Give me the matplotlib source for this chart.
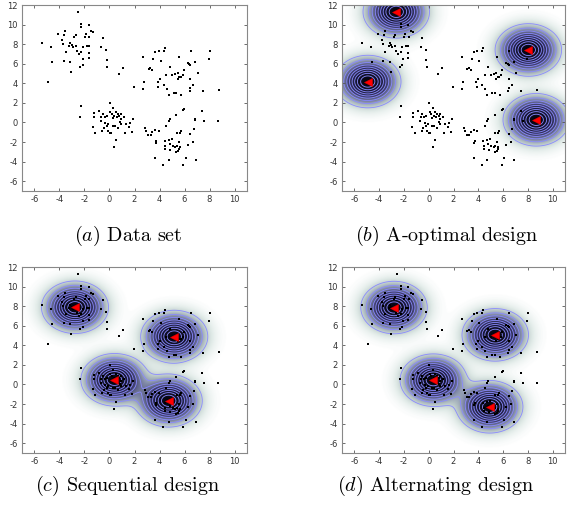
import numpy as np
import matplotlib
matplotlib.use("Agg")
import matplotlib.pyplot as plt
from matplotlib.colors import LinearSegmentedColormap

plt.rcParams['axes.unicode_minus'] = False
plt.rcParams['mathtext.fontset'] = 'cm'

# ---- data set ----
data_x = [
    -2.55, -2.24, -2.24, -1.66, -1.45, -1.29, -4.13, -3.55, -3.63, -3.79, -3.71, -2.71, -2.82,
    -1.89, -1.97, -1.61, -3.13, -3.03, -3.24, -2.95, -2.71, -2.13, -1.82, -1.66, -3.50, -2.63,
    -2.45, -2.24, -1.66, -1.66, -2.10, -3.66, -3.16, -2.32, -2.13, -3.08, -5.37, -4.66, -4.60,
    -4.89, -0.66, -0.53, -0.26, -0.21, -0.16, 0.74, 1.08,
    2.68, 3.66, 3.92, 4.34, 4.42, 4.08, 3.47, 5.53, 6.50, 6.26, 6.37, 6.45, 6.87, 8.05, 7.97,
    3.13, 3.24, 3.39, 4.82, 5.92, 7.08, 4.55, 5.03, 5.24, 5.45, 5.58, 5.71, 5.84, 5.47, 4.00,
    3.84, 2.76, 3.89, 4.34, 4.58, 2.68, 1.97, 5.13, 5.34, 4.74, 5.74, 6.45, 6.47, 6.42, 6.71,
    7.47, 8.74,
    0.03, 0.32, -2.24, -2.32, -0.84, -1.26, -0.55, -1.24, -0.66, -0.71, -0.39, -0.18, 0.08,
    0.18, 0.53, 0.66, 0.79, 0.58, 0.26, 0.39, 0.92, 1.18, 0.92, 1.87, -0.32, -0.18, -0.08,
    0.26, 0.45, 0.82, 0.92, 1.32, 1.66, 1.58, -1.32, -0.45, -0.58, -0.13, 0.03, 0.13, -1.13,
    1.24, 1.76, 0.50, 0.34, 0.68,
    5.89, 5.97, 7.42, 7.58, 6.87, 6.87, 8.71, 5.32, 4.82, 4.74, 2.82, 2.92, 3.08, 3.29, 3.42,
    3.63, 3.92, 4.53, 5.71, 5.61, 5.39, 6.74, 6.45, 4.97, 4.74, 4.42, 3.74, 3.68, 5.55, 4.47,
    4.82, 5.05, 5.24, 5.39, 5.61, 5.58, 5.50, 5.34, 4.84, 4.45, 4.74, 6.66, 6.26, 3.63, 4.29,
    6.10, 5.89, 6.89,
]
data_y = [
    11.26, 10.07, 9.73, 9.97, 9.39, 9.25, 9.05, 9.32, 8.91, 8.47, 8.06, 8.98, 8.78,
    9.05, 8.71, 8.78, 8.13, 7.96, 7.86, 7.69, 7.79, 7.69, 7.82, 7.82, 7.18, 7.35,
    7.00, 7.18, 7.07, 6.60, 6.50, 6.33, 6.16, 5.65, 5.88, 5.17, 8.10, 7.76, 6.22,
    4.12, 7.69, 8.64, 7.41, 6.39, 5.71, 4.97, 5.58,
    6.73, 7.18, 7.28, 7.28, 7.65, 6.33, 6.50, 6.73, 7.28, 6.12, 5.99, 5.88, 6.22, 7.35, 6.50,
    5.48, 5.54, 5.31, 5.71, 5.41, 5.03, 4.90, 4.80, 4.97, 5.03, 4.63, 4.69, 4.80, 4.46, 4.46,
    4.12, 4.12, 3.67, 3.84, 3.44, 3.44, 3.67, 2.99, 2.99, 2.76, 2.82, 4.46, 3.54, 3.20, 3.78,
    3.20, 3.33,
    1.97, 1.50, 1.70, 0.54, 1.16, 0.95, 0.88, 0.54, 0.54, 0.20, 0.61, 0.71, 1.05,
    0.88, 1.05, 0.88, 0.71, 0.54, 0.48, 0.71, 0.37, 0.54, 0.82, 0.31, -0.07, -0.31, -0.20,
    -0.41, -0.31, 0.03, -0.14, -0.20, -0.07, -0.48, -0.48, -0.54, -0.82, -0.88, -1.09, -1.05, -1.09,
    -1.09, -0.99, -1.77, -2.52, -0.54,
    1.29, 1.39, 1.22, 0.20, 0.37, 0.27, 0.20, 0.75, 0.34, 0.14, -0.54, -0.82, -1.26, -1.33, -0.99,
    -0.75, -0.92, -0.31, -0.82, -1.09, -1.05, -0.65, -1.22, -1.67, -1.77, -1.90, -1.90, -2.11, -1.97, -2.38,
    -2.24, -2.41, -2.52, -2.41, -2.52, -2.76, -2.93, -3.03, -2.86, -2.76, -3.81, -2.01, -2.31, -3.64, -4.39,
    -3.61, -4.32, -3.81,
]

# design centres (red triangles)
aopt_x = [-2.62, -4.92, 8.04, 8.68]
aopt_y = [11.30, 4.18, 7.41, 0.27]
seq_x = [-2.76, 5.18, 0.39, 4.74]
seq_y = [7.89, 4.90, 0.48, -1.67]
alt_x = [-2.80, 5.37, 0.37, 4.92]
alt_y = [7.86, 5.07, 0.44, -2.28]

cap_letters = ["(a)", "(b)", "(c)", "(d)"]
cap_texts = ["Data set", "A-optimal design", "Sequential design", "Alternating design"]
x_ticks = [-6, -4, -2, 0, 2, 4, 6, 8, 10]
y_ticks = [-6, -4, -2, 0, 2, 4, 6, 8, 10, 12]

XLIM = (-7, 11)
YLIM = (-7, 12)
SIGMA = 1.25

cmap = LinearSegmentedColormap.from_list("dens", [
    (0.0, "#ffffff"), (0.015, "#f3f7f6"), (0.05, "#e0eae7"), (0.12, "#bccac9"),
    (0.25, "#8089a8"), (0.45, "#3e3e6c"), (0.7, "#1a1a3a"), (1.0, "#05050f")])

W, H = 576, 511
fig = plt.figure(figsize=(W / 100, H / 100), dpi=100)

boxes = [(22, 5, 225, 186), (342, 5, 223, 186), (22, 267, 225, 186), (342, 267, 223, 186)]
designs = [None, (aopt_x, aopt_y), (seq_x, seq_y), (alt_x, alt_y)]
cap_pos = [(128, 236), (447, 236), (128, 486), (436, 486)]

gx = np.linspace(XLIM[0], XLIM[1], 400)
gy = np.linspace(YLIM[0], YLIM[1], 400)
GX, GY = np.meshgrid(gx, gy)

for i in range(4):
    l, t, w, h = boxes[i]
    ax = fig.add_axes([l / W, 1 - (t + h) / H, w / W, h / H])
    if designs[i] is not None:
        cx, cy = designs[i]
        Z = np.zeros_like(GX)
        for a, b in zip(cx, cy):
            Z += np.exp(-((GX - a) ** 2 + (GY - b) ** 2) / (2 * SIGMA ** 2))
        Z = np.clip(Z, 0, 1)
        ax.imshow(Z, extent=[XLIM[0], XLIM[1], YLIM[0], YLIM[1]], origin='lower',
                  cmap=cmap, vmin=0, vmax=1, aspect='auto', interpolation='bilinear', zorder=0)
        ax.contour(GX, GY, Z, levels=np.arange(0.1, 1.0, 0.1), colors='#8a8aff',
                   linewidths=0.6, zorder=1)
    ax.scatter(data_x, data_y, s=2.5, c='black', marker='s', linewidths=0, zorder=2)
    if designs[i] is not None:
        ax.plot(cx, cy, linestyle='none', marker='<', color='#ff0000', markersize=5.5,
                markeredgecolor='#dd0000', markeredgewidth=0.4, zorder=3)
    ax.set_xlim(*XLIM)
    ax.set_ylim(*YLIM)
    ax.set_xticks(x_ticks)
    ax.set_yticks(y_ticks)
    ax.tick_params(direction='in', length=2.5, width=0.6, colors='#555555', labelsize=6,
                   top=True, right=True, pad=3, labelcolor='#333333')
    for s in ax.spines.values():
        s.set_color('#888888')
        s.set_linewidth(0.8)
    fig.text(cap_pos[i][0] / W, 1 - cap_pos[i][1] / H,
             "$" + cap_letters[i] + "$ " + cap_texts[i], ha='center', va='center',
             fontsize=14.5, family='cmr10')

fig.savefig("out.png", dpi=100)
